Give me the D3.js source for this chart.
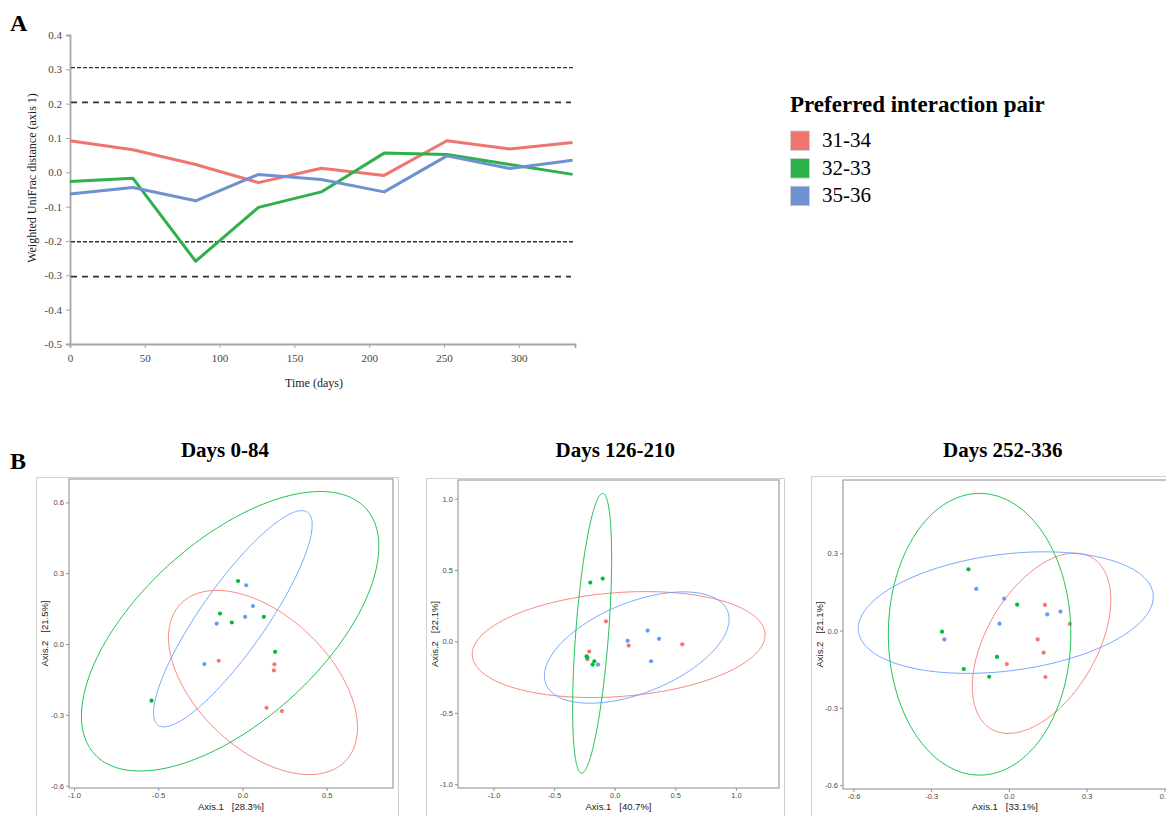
<!DOCTYPE html>
<html><head><meta charset="utf-8">
<script src="https://cdn.jsdelivr.net/npm/d3@7"></script>
<style>body{margin:0;background:#fff} svg{display:block}</style>
</head><body>
<svg id="chart" width="1166" height="816"></svg>
<script>
// ---------- DATA: panel A ----------
const days = [0, 42, 84, 126, 168, 210, 252, 294, 336];
const pairs = ["31-34", "32-33", "35-36"];
const dist3134 = [0.092, 0.066, 0.023, -0.030, 0.012, -0.009, 0.092, 0.068, 0.087];
const dist3233 = [-0.027, -0.017, -0.259, -0.102, -0.057, 0.056, 0.052, 0.023, -0.006];
const dist3536 = [-0.063, -0.044, -0.083, -0.006, -0.021, -0.057, 0.048, 0.011, 0.035];
const yTicksA = [0.4, 0.3, 0.2, 0.1, 0.0, -0.1, -0.2, -0.3, -0.4, -0.5];
const xTicksA = [0, 50, 100, 150, 200, 250, 300];
const fineRefLines = [0.305, -0.202];
const coarseRefLines = [0.204, -0.304];

// ---------- DATA: panel B (PCoA) ----------
const pcoaTitles = ["Days 0-84", "Days 126-210", "Days 252-336"];
const axis1Labels = ["Axis.1   [28.3%]", "Axis.1   [40.7%]", "Axis.1   [33.1%]"];
const axis2Labels = ["Axis.2   [21.5%]", "Axis.2   [22.1%]", "Axis.2   [21.1%]"];
const xTicksB = [[-1.0, -0.5, 0.0, 0.5], [-1.0, -0.5, 0.0, 0.5, 1.0], [-0.6, -0.3, 0.0, 0.3, 0.6]];
const yTicksB = [[0.6, 0.3, 0.0, -0.3, -0.6], [1.0, 0.5, 0.0, -0.5, -1.0], [0.3, 0.0, -0.3, -0.6]];

const pts084_3134 = [[-0.141,-0.071],[0.190,-0.086],[0.187,-0.112],[0.143,-0.270],[0.234,-0.284]];
const pts084_3233 = [[-0.026,0.267],[-0.133,0.129],[-0.063,0.091],[0.127,0.115],[0.194,-0.033],[-0.540,-0.240]];
const pts084_3536 = [[0.022,0.249],[0.062,0.161],[0.016,0.115],[-0.153,0.086],[-0.226,-0.085]];
const pts126_3134 = [[-0.072,0.141],[-0.210,-0.071],[-0.226,-0.125],[0.116,-0.029],[0.558,-0.020]];
const pts126_3233 = [[-0.201,0.412],[-0.099,0.440],[-0.232,-0.104],[-0.226,-0.111],[-0.168,-0.139],[-0.182,-0.162]];
const pts126_3536 = [[-0.138,-0.162],[0.107,0.004],[0.272,0.076],[0.366,0.018],[0.300,-0.139]];
const pts252_3134 = [[0.139,0.100],[0.235,0.026],[0.111,-0.034],[0.134,-0.085],[-0.008,-0.130],[0.141,-0.180]];
const pts252_3233 = [[-0.156,0.238],[0.032,0.101],[-0.258,-0.004],[-0.046,-0.102],[-0.174,-0.149],[-0.076,-0.179]];
const pts252_3536 = [[-0.126,0.162],[-0.018,0.124],[-0.036,0.027],[0.148,0.063],[0.199,0.074],[-0.249,-0.034]];

// ellipse: [centre x, centre y, right-extreme dx, right-extreme dy, half y-extent] (data units)
const ell084 = [[0.122,-0.163,0.561,-0.191,0.390],[-0.073,0.054,0.883,0.359,0.592],[-0.057,0.107,0.471,0.398,0.458]];
const ell126 = [[0.033,-0.022,1.208,0.068,0.371],[-0.186,0.057,0.161,0.527,0.980],[0.182,-0.043,0.762,0.198,0.390]];
const ell252 = [[0.126,-0.049,0.267,0.168,0.350],[-0.113,-0.014,0.352,0.0,0.547],[-0.012,0.070,0.569,0.0615,0.236]];
const xDomB = [[-1.030, 0.894], [-1.293, 1.356], [-0.640, 0.610]];
const yDomB = [[-0.610, 0.699], [-1.027, 1.131], [-0.615, 0.585]];

// ---------- drawing ----------
const svg = d3.select("#chart");
const serif = "'Liberation Serif','Times New Roman',serif";
const sans = "'Liberation Sans',Arial,sans-serif";
const lineColors = ["#F07470", "#2DB14A", "#6E91CF"];
const ptColors = ["#F8766D", "#00BA38", "#619CFF"];
const fmt = v => d3.format(".1f")(v).replace("\u2212", "-");

// Panel A
const A = {l: 70, r: 575, t: 35, b: 344};
const xA = d3.scaleLinear().domain([0, 337.6]).range([A.l, A.r]);
const yA = d3.scaleLinear().domain([-0.5, 0.4]).range([A.b, A.t]);

svg.append("text").attr("x", 10).attr("y", 31).attr("font-family", serif)
  .attr("font-weight", "bold").attr("font-size", 24).text("A");

const gA = svg.append("g");
// axes
const yAxA = gA.append("g").attr("transform", `translate(${A.l},0)`)
  .call(d3.axisLeft(yA).tickValues(yTicksA).tickFormat(fmt).tickSize(4).tickPadding(4));
const xAxA = gA.append("g").attr("transform", `translate(0,${A.b})`)
  .call(d3.axisBottom(xA).tickValues(xTicksA).tickFormat(d3.format("d")).tickSize(4).tickPadding(6));
[yAxA, xAxA].forEach(ax => {
  ax.select(".domain").attr("stroke", "#a6a6a6").attr("stroke-width", 1.8);
  ax.selectAll(".tick line").attr("stroke", "#a6a6a6").attr("stroke-width", 1);
  ax.selectAll("text").attr("font-family", serif).attr("font-size", 11).attr("fill", "#444");
});
// reference lines
gA.selectAll(".fine").data(fineRefLines).join("line")
  .attr("x1", A.l + 1).attr("x2", A.r).attr("y1", d => yA(d)).attr("y2", d => yA(d))
  .attr("stroke", "#333").attr("stroke-width", 1.4).attr("stroke-dasharray", "4,2");
gA.selectAll(".coarse").data(coarseRefLines).join("line")
  .attr("x1", A.l + 1).attr("x2", A.r - 4).attr("y1", d => yA(d)).attr("y2", d => yA(d))
  .attr("stroke", "#333").attr("stroke-width", 1.8).attr("stroke-dasharray", "6,5");
// series
const seriesA = [dist3134, dist3233, dist3536];
const lineA = d3.line().x((d, i) => xA(days[i])).y(d => yA(d));
seriesA.forEach((s, k) => {
  gA.append("path").datum(s).attr("d", lineA).attr("fill", "none")
    .attr("stroke", lineColors[k]).attr("stroke-width", 3).attr("stroke-linejoin", "round");
});
// axis titles
gA.append("text").attr("transform", `translate(36,178) rotate(-90)`).attr("text-anchor", "middle")
  .attr("font-family", serif).attr("font-size", 12).attr("fill", "#222")
  .text("Weighted UniFrac distance (axis 1)");
gA.append("text").attr("x", 314).attr("y", 387).attr("text-anchor", "middle")
  .attr("font-family", serif).attr("font-size", 12).attr("fill", "#222").text("Time (days)");

// Legend
const leg = svg.append("g");
leg.append("text").attr("x", 790).attr("y", 112).attr("font-family", serif)
  .attr("font-weight", "bold").attr("font-size", 23).text("Preferred interaction pair");
pairs.forEach((p, i) => {
  const y0 = 131 + i * 27.6;
  leg.append("rect").attr("x", 790.5).attr("y", y0).attr("width", 19).attr("height", 19.5)
    .attr("fill", lineColors[i]).attr("stroke", "#d0d0d0").attr("stroke-width", 0.8);
  leg.append("text").attr("x", 822).attr("y", y0 + 16).attr("font-family", serif)
    .attr("font-size", 21).text(p);
});

// Panel B
svg.append("text").attr("x", 10).attr("y", 469).attr("font-family", serif)
  .attr("font-weight", "bold").attr("font-size", 24).text("B");

const panelsB = [
  {outer: [36, 477, 362], plot: [69, 393, 479, 788], tx: 225, ty: 457, yt: 48,
   pts: [pts084_3134, pts084_3233, pts084_3536], ell: ell084},
  {outer: [426, 478, 358], plot: [458, 779, 480, 788], tx: 615.3, ty: 457, yt: 437.5,
   pts: [pts126_3134, pts126_3233, pts126_3536], ell: ell126},
  {outer: [811, 476, 400], plot: [843, 1167, 480, 789], tx: 1002.8, ty: 457, yt: 822.5,
   pts: [pts252_3134, pts252_3233, pts252_3536], ell: ell252}
];

panelsB.forEach((P, k) => {
  const g = svg.append("g");
  const [ox, oy, ow] = P.outer;
  g.append("path").attr("d", `M${ox + 0.5},820 V${oy + 0.5} H${ox + ow + 0.5} V820`)
    .attr("fill", "none").attr("stroke", "#cfcfcf").attr("stroke-width", 1);
  g.append("text").attr("x", P.tx).attr("y", P.ty).attr("text-anchor", "middle")
    .attr("font-family", serif).attr("font-weight", "bold").attr("font-size", 21).text(pcoaTitles[k]);

  const [l, r, t, b] = P.plot;
  const x = d3.scaleLinear().domain(xDomB[k]).range([l, r]);
  const y = d3.scaleLinear().domain(yDomB[k]).range([b, t]);

  const ax = g.append("g").attr("transform", `translate(0,${b})`)
    .call(d3.axisBottom(x).tickValues(xTicksB[k]).tickFormat(fmt).tickSize(3).tickPadding(2));
  const ay = g.append("g").attr("transform", `translate(${l},0)`)
    .call(d3.axisLeft(y).tickValues(yTicksB[k]).tickFormat(fmt).tickSize(3).tickPadding(2));
  [ax, ay].forEach(a => {
    a.select(".domain").remove();
    a.selectAll(".tick line").attr("stroke", "#4d4d4d").attr("stroke-width", 0.6);
    a.selectAll("text").attr("font-family", sans).attr("font-size", 7.5).attr("fill", "#4d4d4d");
  });
  g.append("rect").attr("x", l).attr("y", t).attr("width", r - l).attr("height", b - t)
    .attr("fill", "none").attr("stroke", "#8c8c8c").attr("stroke-width", 1);

  const clipId = "clipB" + k;
  g.append("clipPath").attr("id", clipId).append("rect")
    .attr("x", l).attr("y", t).attr("width", r - l).attr("height", b - t);
  const inner = g.append("g").attr("clip-path", `url(#${clipId})`);

  // points
  P.pts.forEach((arr, gi) => {
    inner.selectAll(null).data(arr).join("circle")
      .attr("cx", d => x(d[0])).attr("cy", d => y(d[1])).attr("r", 2.1)
      .attr("fill", ptColors[gi]);
  });
  // ellipses
  const ts = d3.range(0, 361).map(d => d * Math.PI / 180);
  P.ell.forEach((e, gi) => {
    const [cx, cy, adx, ady, ey] = e;
    const h = Math.sqrt(Math.max(ey * ey - ady * ady, 0));
    const line = d3.line()
      .x(tt => x(cx + adx * Math.cos(tt)))
      .y(tt => y(cy + ady * Math.cos(tt) + h * Math.sin(tt)));
    inner.append("path").datum(ts).attr("d", line).attr("fill", "none")
      .attr("stroke", ptColors[gi]).attr("stroke-width", 0.9);
  });

  g.append("text").attr("x", (l + r) / 2).attr("y", 810).attr("text-anchor", "middle")
    .attr("font-family", sans).attr("font-size", 9.5).attr("fill", "#1a1a1a")
    .style("white-space", "pre").text(axis1Labels[k]);
  g.append("text").attr("transform", `translate(${P.yt},${(t + b) / 2}) rotate(-90)`)
    .attr("text-anchor", "middle").attr("font-family", sans).attr("font-size", 9.5)
    .attr("fill", "#1a1a1a").style("white-space", "pre").text(axis2Labels[k]);
});
</script>
</body></html>
